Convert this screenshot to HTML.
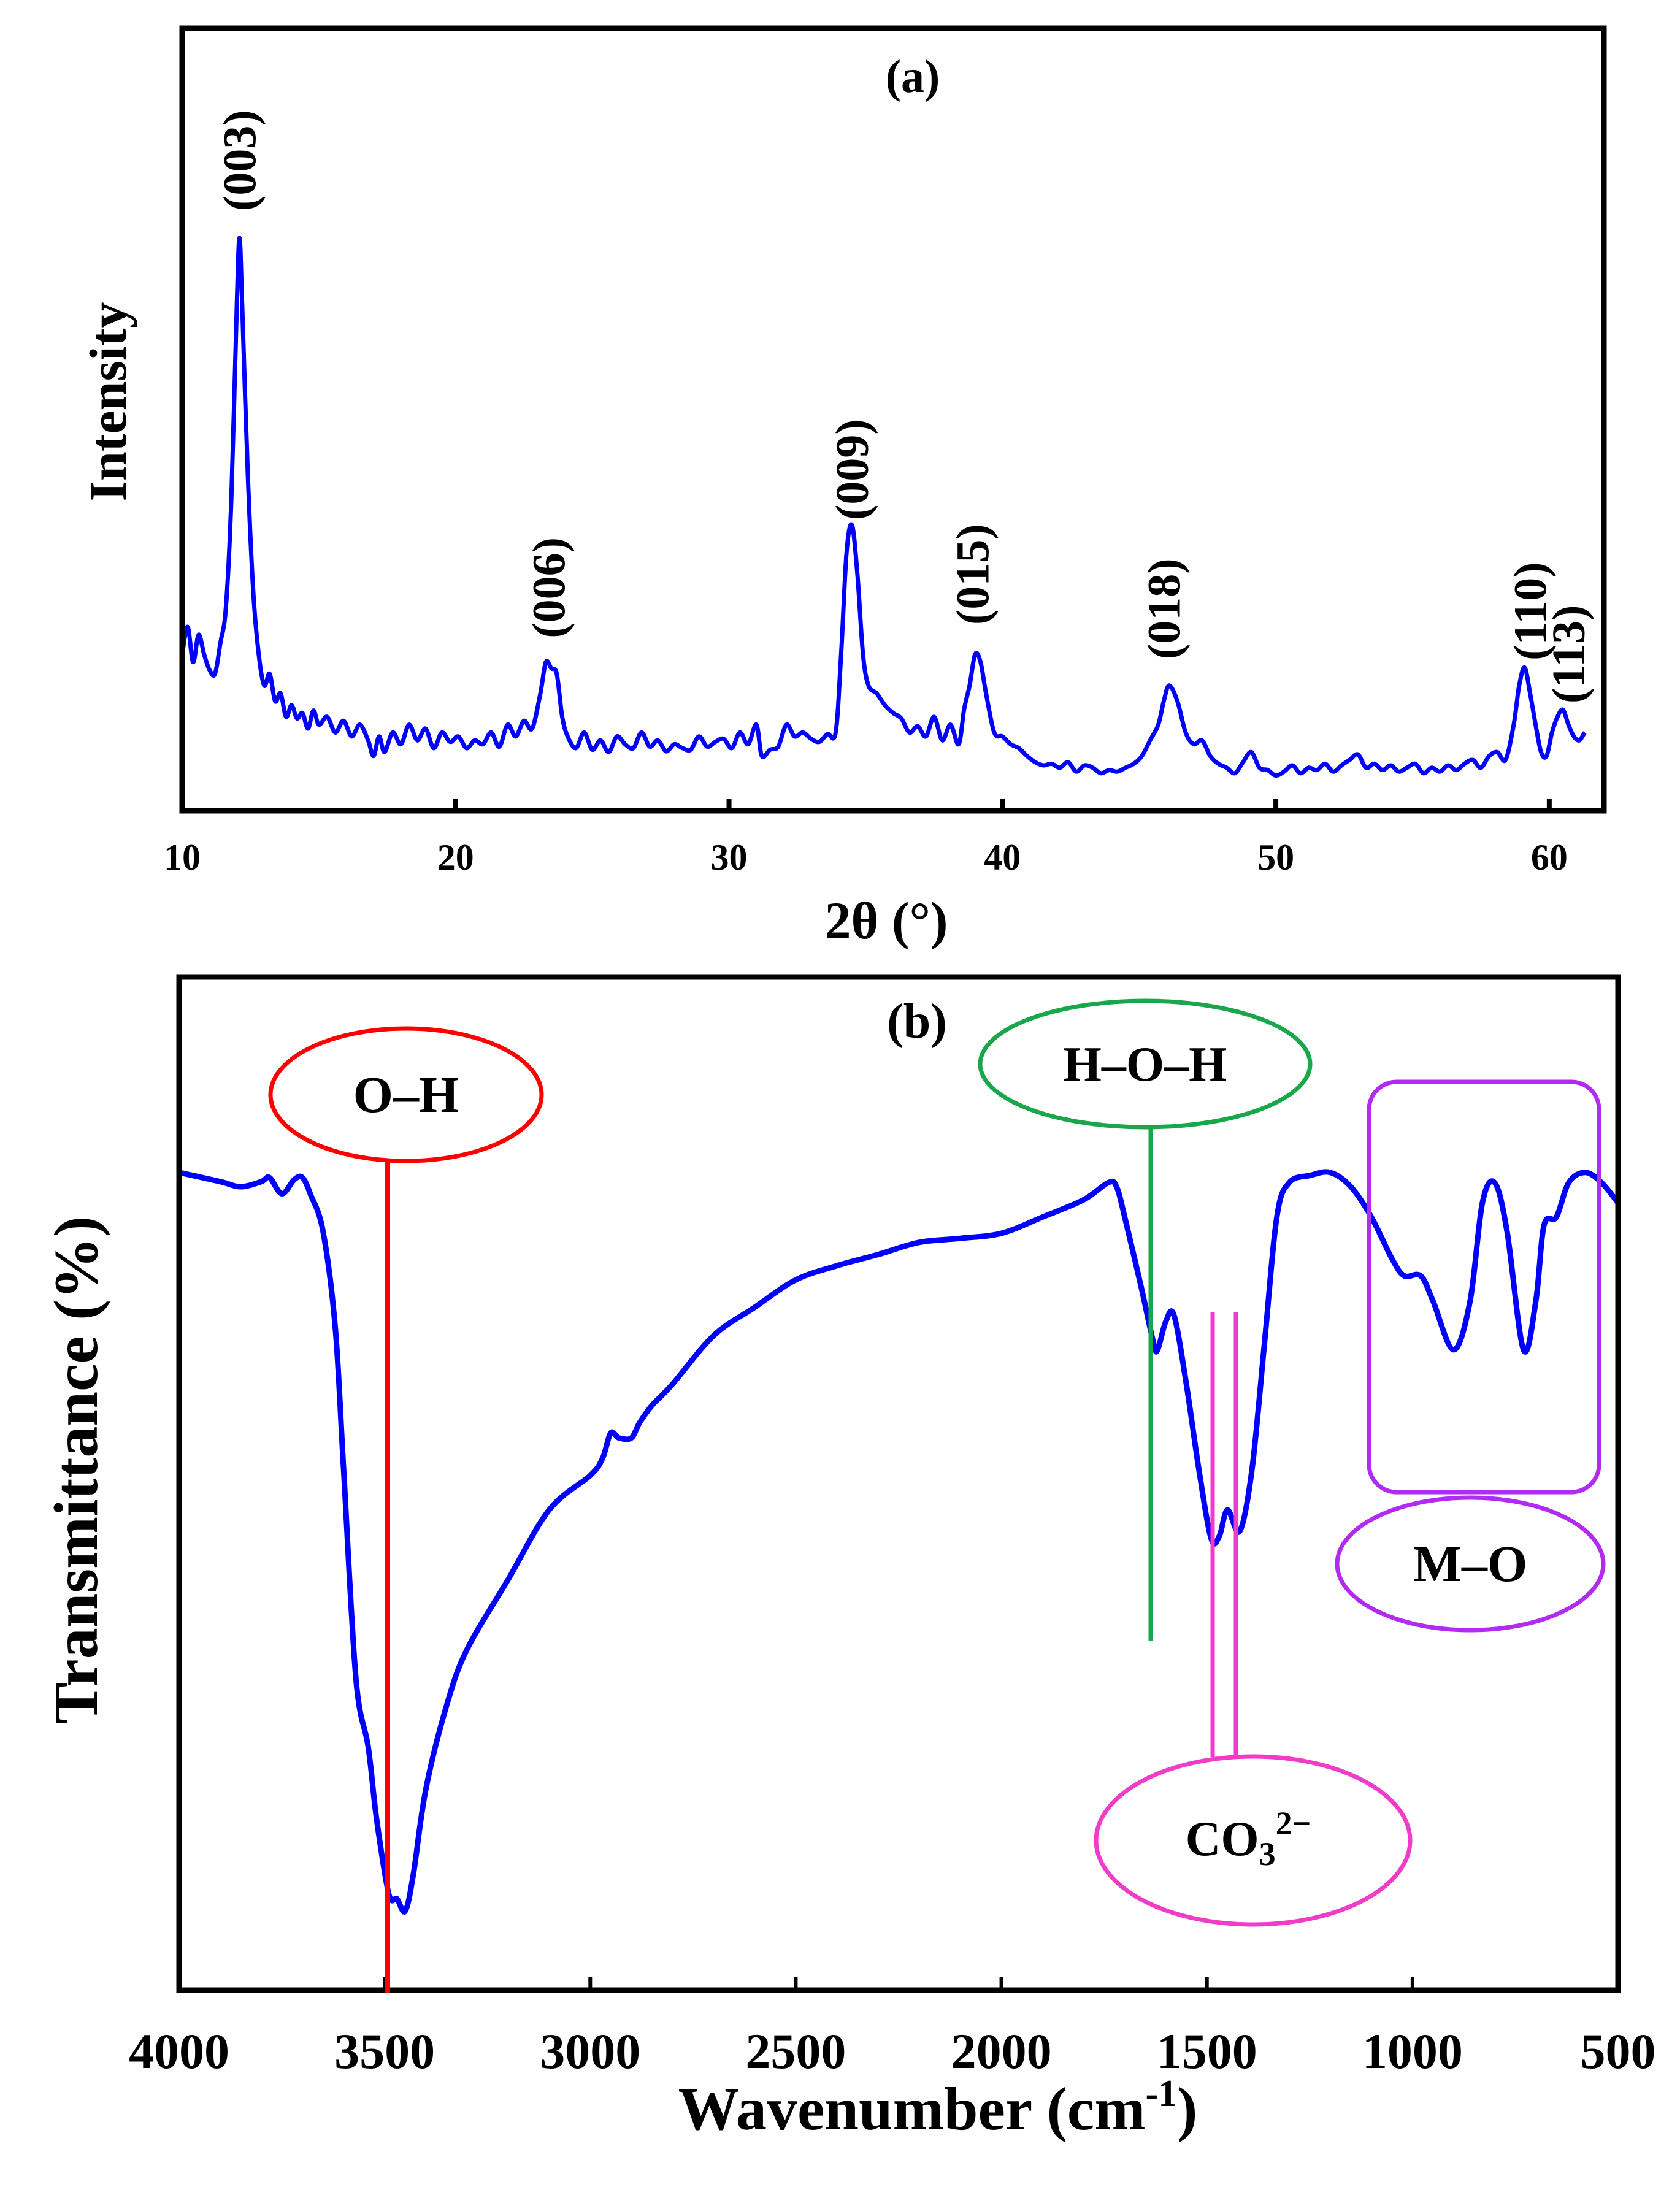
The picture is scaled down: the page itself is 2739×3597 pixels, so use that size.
<!DOCTYPE html>
<html><head><meta charset="utf-8"><style>
html,body{margin:0;padding:0;background:#fff;}
svg{display:block;font-family:"Liberation Serif",serif;font-weight:bold;}
</style></head><body>
<svg id="fig" width="2739" height="3597" viewBox="0 0 2739 3597">
<g id="panelA"></g>
<g id="panelB"></g>
</svg>
<script>
// ---- XRD data (panel a) ----
const xrdTwoTheta = [10,10.2,10.4,10.6,10.8,11,11.2,11.4,11.6,11.8,12.0,12.1,12.2,12.4,12.6,12.8,13.0,13.2,13.4,13.6,13.8,14.0,14.2,14.4,14.6,14.8,15.0,15.3,15.6,15.9,16.2,16.5,16.8,17.0,17.2,17.4,17.7,18.0,18.3,18.6,18.9,19.2,19.5,19.8,20.1,20.4,20.7,21.0,21.3,21.6,21.9,22.2,22.5,22.8,23.1,23.3,23.5,23.7,23.9,24.1,24.4,24.7,25.0,25.3,25.6,25.9,26.2,26.5,26.8,27.1,27.4,27.7,28.0,28.3,28.6,28.9,29.2,29.5,29.8,30.1,30.4,30.7,31.0,31.2,31.5,31.8,32.1,32.4,32.7,33.0,33.3,33.6,33.9,34.1,34.3,34.5,34.7,34.9,35.1,35.4,35.7,36.0,36.3,36.6,36.9,37.2,37.5,37.8,38.1,38.4,38.6,38.8,39.0,39.2,39.4,39.7,40.0,40.3,40.6,40.9,41.2,41.5,41.8,42.1,42.4,42.7,43.0,43.3,43.6,43.9,44.2,44.5,44.8,45.1,45.4,45.7,45.9,46.1,46.4,46.7,47.0,47.3,47.6,47.9,48.2,48.5,48.8,49.1,49.4,49.7,50.0,50.3,50.6,50.9,51.2,51.5,51.8,52.1,52.4,52.7,53.0,53.3,53.6,53.9,54.2,54.5,54.8,55.1,55.4,55.7,56.0,56.3,56.6,56.9,57.2,57.5,57.8,58.1,58.4,58.7,58.9,59.1,59.3,59.5,59.7,59.9,60.1,60.3,60.5,60.7,60.9,61.1,61.3,61.6,62.0];
const xrdIntensity = [200,235,190,225,200,180,175,215,260,400,650,732,640,430,280,200,160,175,140,150,120,135,118,125,105,128,110,120,100,115,95,110,90,70,95,75,100,85,110,90,105,80,100,88,95,80,90,85,100,82,110,95,115,105,150,190,182,175,120,95,80,100,78,90,75,95,85,80,100,82,90,76,85,80,78,95,82,88,92,80,100,85,110,70,78,82,110,95,100,92,88,98,100,200,330,365,300,200,160,150,135,125,118,100,108,95,120,90,110,85,130,160,200,190,150,100,95,85,80,70,62,58,60,55,62,50,58,55,48,52,50,55,60,70,90,110,140,160,140,100,85,90,70,60,55,48,62,75,55,52,45,50,58,48,55,52,60,50,58,65,72,55,60,52,58,50,55,60,48,55,50,58,52,60,65,55,70,75,65,110,160,183,150,110,75,70,100,120,129,110,95,90,100,112];
const xrdTicks = [10,20,30,40,50,60];
const xrdPeakLabels = ["(003)","(006)","(009)","(015)","(018)","(110)","(113)"];
const xrdPeakPos = [12.1,23.4,34.5,38.9,45.9,59.3,60.7];
const xrdPeakLabelInt = [831,285,436,302,258,255,200];

// ---- FTIR data (panel b) ----
const ftirWavenumber = [4000,3900,3850,3800,3780,3750,3720,3700,3680,3650,3620,3600,3570,3540,3520,3490,3470,3450,3430,3400,3350,3300,3200,3100,3000,2970,2950,2930,2900,2880,2850,2800,2700,2600,2500,2400,2300,2200,2100,2000,1900,1800,1740,1720,1700,1660,1630,1620,1600,1580,1550,1520,1490,1470,1450,1420,1390,1360,1330,1300,1250,1200,1150,1100,1050,1020,980,950,900,860,830,800,770,730,700,680,650,620,580,540,500];
const ftirTransmittance = [80.7,79.8,79.3,79.8,80.2,78.6,80.0,80.2,78.5,74.9,65.3,51.5,30.8,24.0,17.0,9.5,9.0,7.8,11.5,19.8,28.0,33.6,40.5,47.4,50.8,52.5,55.0,54.5,54.5,56.0,57.7,59.8,64.6,67.4,70.1,71.5,72.6,73.8,74.2,74.7,76.3,78.0,79.7,79.3,76.3,69.4,63.9,63.2,66.0,66.6,59.8,51.5,44.6,44.8,47.4,45.3,51.5,63.9,76.3,79.7,80.4,80.7,79.3,76.3,72.2,70.5,70.5,68.0,63.2,68.0,77.7,79.7,74.9,63.2,68.0,75.5,76.3,79.7,80.7,79.7,77.7];
const ftirTicks = [4000,3500,3000,2500,2000,1500,1000,500];

const NS="http://www.w3.org/2000/svg";
function mk(parent,tag,attrs){const e=document.createElementNS(NS,tag);for(const k in attrs)e.setAttribute(k,attrs[k]);parent.appendChild(e);return e;}
function smooth(pts){
  let d='M'+pts[0][0].toFixed(1)+','+pts[0][1].toFixed(1);
  for(let i=0;i<pts.length-1;i++){
    const p0=pts[Math.max(0,i-1)],p1=pts[i],p2=pts[i+1],p3=pts[Math.min(pts.length-1,i+2)];
    const c1x=p1[0]+(p2[0]-p0[0])/6,c1y=p1[1]+(p2[1]-p0[1])/6;
    const c2x=p2[0]-(p3[0]-p1[0])/6,c2y=p2[1]-(p3[1]-p1[1])/6;
    d+='C'+c1x.toFixed(1)+','+c1y.toFixed(1)+' '+c2x.toFixed(1)+','+c2y.toFixed(1)+' '+p2[0].toFixed(1)+','+p2[1].toFixed(1);
  }
  return d;
}

// ===== Panel A =====
const A={x0:297,x1:2615,y0:46,y1:1322};
const ax=v=>A.x0+(v-10)/(62-10)*(A.x1-A.x0);
const ay=v=>A.y1-v/1000*(A.y1-A.y0);
const pa=document.getElementById('panelA');
const la=mk(pa,'path',{d:smooth(xrdTwoTheta.map((t,i)=>[ax(t),ay(xrdIntensity[i])])),fill:'none',stroke:'#0000ff','stroke-width':7,'stroke-linejoin':'round'});


const fa=mk(pa,'rect',{x:A.x0,y:A.y0,width:A.x1-A.x0,height:A.y1-A.y0,fill:'none',stroke:'#000','stroke-width':9});


xrdTicks.forEach(t=>{
  const tk=mk(pa,'line',{x1:ax(t),x2:ax(t),y1:A.y1,y2:A.y1-20,stroke:'#000','stroke-width':8});
  
  
  const tl=mk(pa,'text',{x:ax(t),y:1418,'text-anchor':'middle','font-size':60});
  tl.textContent=t;
  
  
});
xrdPeakLabels.forEach((s,i)=>{
  const x=ax(xrdPeakPos[i]), y=ay(xrdPeakLabelInt[i]);
  const tl=mk(pa,'text',{x:x+26,y:y,'text-anchor':'middle','font-size':76,transform:'rotate(-90 '+(x+26)+' '+y+')'});
  tl.textContent=s;
  
  
});
let t=mk(pa,'text',{x:1488,y:150,'text-anchor':'middle','font-size':76});t.textContent='(a)';


t=mk(pa,'text',{x:1445,y:1530,'text-anchor':'middle','font-size':86});t.textContent='2θ (°)';


t=mk(pa,'text',{x:205,y:655,'text-anchor':'middle','font-size':86,transform:'rotate(-90 205 655)'});t.textContent='Intensity';



// ===== Panel B =====
const B={x0:292,x1:2638,y0:1593,y1:3245};
const bx=v=>B.x0+(4000-v)/(4000-500)*(B.x1-B.x0);
const by=v=>B.y1-v/100*(B.y1-B.y0);
const pb=document.getElementById('panelB');
const lb=mk(pb,'path',{d:smooth(ftirWavenumber.map((w,i)=>[bx(w),by(ftirTransmittance[i])])),fill:'none',stroke:'#0000ff','stroke-width':9,'stroke-linejoin':'round'});


const fb=mk(pb,'rect',{x:B.x0,y:B.y0,width:B.x1-B.x0,height:B.y1-B.y0,fill:'none',stroke:'#000','stroke-width':9});


ftirTicks.forEach(w=>{
  const tk=mk(pb,'line',{x1:bx(w),x2:bx(w),y1:B.y1,y2:B.y1-22,stroke:'#000','stroke-width':6});
  
  
  const tl=mk(pb,'text',{x:bx(w),y:3372,'text-anchor':'middle','font-size':82});
  tl.textContent=w;
  
  
});
// annotations
let e=mk(pb,'line',{x1:632,x2:632,y1:1894,y2:3250,stroke:'#ff0000','stroke-width':8});


e=mk(pb,'ellipse',{cx:662,cy:1785,rx:221,ry:108,fill:'#fff',stroke:'#ff0000','stroke-width':7});


e=mk(pb,'text',{x:662,y:1813,'text-anchor':'middle','font-size':84});e.textContent='O–H';


e=mk(pb,'line',{x1:1876,x2:1876,y1:1837,y2:2675,stroke:'#1aa64a','stroke-width':7});


e=mk(pb,'ellipse',{cx:1867,cy:1735,rx:269,ry:103,fill:'#fff',stroke:'#1aa64a','stroke-width':7});


e=mk(pb,'text',{x:1867,y:1762,'text-anchor':'middle','font-size':80});e.textContent='H–O–H';


e=mk(pb,'line',{x1:1977,x2:1977,y1:2139,y2:2865,stroke:'#f03cc8','stroke-width':7});


e=mk(pb,'line',{x1:2015,x2:2015,y1:2139,y2:2865,stroke:'#f03cc8','stroke-width':7});


e=mk(pb,'ellipse',{cx:2043,cy:3001,rx:256,ry:137,fill:'#fff',stroke:'#f03cc8','stroke-width':7});


e=mk(pb,'text',{x:2035,y:3025,'text-anchor':'middle','font-size':80});
e.innerHTML='CO<tspan font-size="54" dy="16">3</tspan><tspan font-size="54" dy="-50">2−</tspan>';


e=mk(pb,'rect',{x:2232,y:1764,width:375,height:669,rx:45,ry:45,fill:'none',stroke:'#b12cf0','stroke-width':7});


e=mk(pb,'ellipse',{cx:2397,cy:2550,rx:217,ry:108,fill:'#fff',stroke:'#b12cf0','stroke-width':7});


e=mk(pb,'text',{x:2397,y:2578,'text-anchor':'middle','font-size':84});e.textContent='M–O';


e=mk(pb,'text',{x:1495,y:1692,'text-anchor':'middle','font-size':80});e.textContent='(b)';


e=mk(pb,'text',{x:1529,y:3472,'text-anchor':'middle','font-size':100});
e.innerHTML='Wavenumber (cm<tspan font-size="62" dy="-38">-1</tspan><tspan dy="38">)</tspan>';


e=mk(pb,'text',{x:158,y:2397,'text-anchor':'middle','font-size':102,transform:'rotate(-90 158 2397)'});e.textContent='Transmittance (%)';


</script>
</body></html>
